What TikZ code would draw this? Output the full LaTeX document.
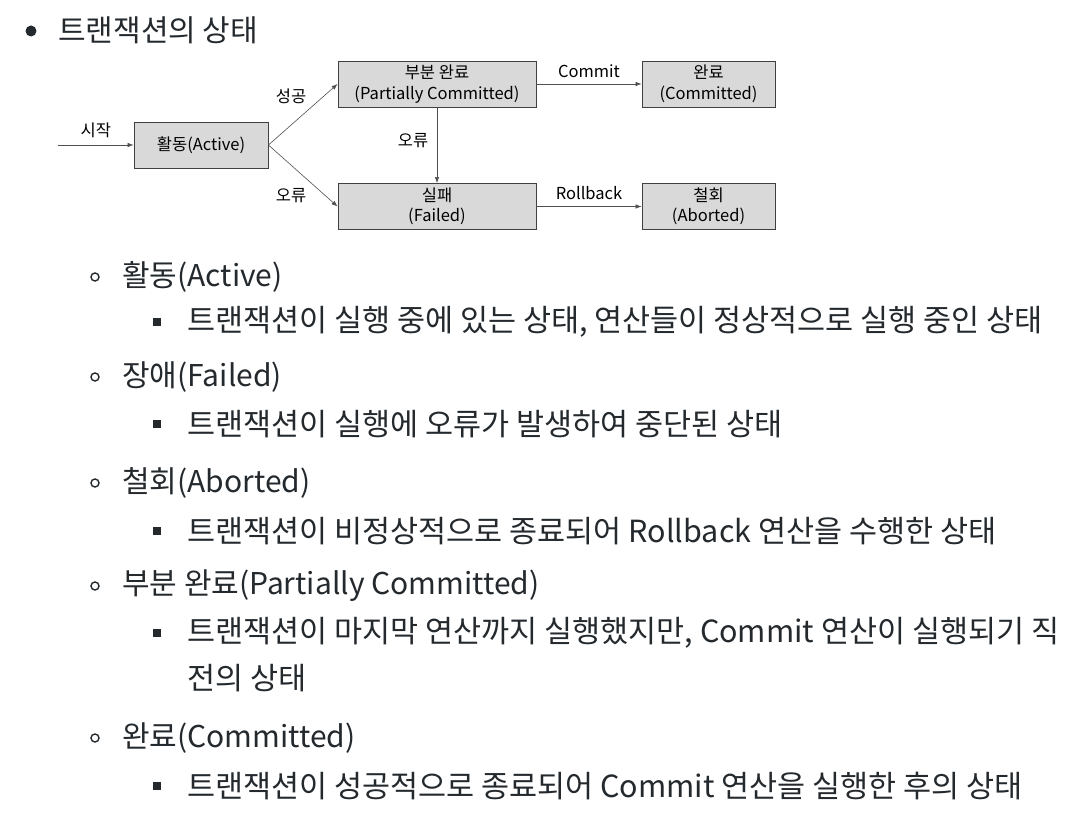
\documentclass[tikz,border=0pt]{standalone}
\usepackage{fontspec}
\setmainfont{Noto Sans CJK KR}
\usepackage{xcolor}
\usetikzlibrary{shapes,arrows,arrows.meta,positioning,calc}

\definecolor{inkgray}{HTML}{24292E}
\definecolor{boxfill}{HTML}{D9D9D9}
\definecolor{boxline}{HTML}{404040}
\definecolor{edgegray}{HTML}{505050}

\begin{document}
\begin{tikzpicture}[x=1pt, y=-1pt,
    state/.style={draw=boxline, fill=boxfill, line width=0.9pt, minimum height=46pt,
        align=center, inner sep=2pt, font=\fontsize{16.5}{20.5}\selectfont},
    edge/.style={-{Latex[length=6pt,width=4.5pt]}, draw=edgegray, line width=0.6pt},
    lbl/.style={font=\fontsize{16.5}{19}\selectfont, text=black},
    item/.style={anchor=west, inner sep=0pt, text=inkgray, font=\fontsize{30}{34}\selectfont},
    desc/.style={item, font=\fontsize{30.5}{34}\selectfont},
    hollow/.style={circle, draw=inkgray, line width=1.4pt, minimum size=8pt, inner sep=0pt},
    sqbullet/.style={fill=inkgray, minimum size=8.5pt, inner sep=0pt}]
\useasboundingbox (0,0) rectangle (1086,824);

% heading
\node[circle, fill=inkgray, minimum size=11pt, inner sep=0pt] (dot) at (31,31) {};
\node[item] (head) at (58,30) {트랜잭션의 상태};

% state diagram
\coordinate (start) at (58,145);
\node[state, minimum width=134pt] (active) at (201,145) {활동(Active)};
\node[state, minimum width=198pt] (partial) at (437,84) {부분 완료\\(Partially Committed)};
\node[state, minimum width=133pt] (committed) at (708.5,84) {완료\\(Committed)};
\node[state, minimum width=198pt] (failed) at (437,206.5) {실패\\(Failed)};
\node[state, minimum width=133pt] (aborted) at (708.5,206.5) {철회\\(Aborted)};

\draw[edge] (start) -- (active) node[lbl, midway, above=4pt] (lstart) {시작};
\draw[edge] (active.east) -- (partial.west);
\draw[edge] (active.east) -- (failed.west);
\draw[edge] (partial) -- (failed);
\draw[edge] (partial) -- (committed) node[lbl, midway, above=3pt] (lcommit) {Commit};
\draw[edge] (failed) -- (aborted) node[lbl, midway, above=3pt] (lrollback) {Rollback};

\node[lbl] (lsuccess) at (291,96) {성공};
\node[lbl] (lerror) at (291,196) {오류};
\node[lbl] (lerror2) at (413,141) {오류};

% list of states
\node[hollow] (b1) at (95,277) {};
\node[item] (t1) at (122,277) {활동(Active)};
\node[sqbullet] (s1) at (157,322) {};
\node[desc] (d1) at (187,322) {트랜잭션이 실행 중에 있는 상태, 연산들이 정상적으로 실행 중인 상태};

\node[hollow] (b2) at (95,377) {};
\node[item] (t2) at (122,377) {장애(Failed)};
\node[sqbullet] (s2) at (157,424) {};
\node[desc] (d2) at (187,424) {트랜잭션이 실행에 오류가 발생하여 중단된 상태};

\node[hollow] (b3) at (95,483) {};
\node[item] (t3) at (122,483) {철회(Aborted)};
\node[sqbullet] (s3) at (157,531) {};
\node[desc] (d3) at (187,531) {트랜잭션이 비정상적으로 종료되어 Rollback 연산을 수행한 상태};

\node[hollow] (b4) at (95,586) {};
\node[item] (t4) at (122,586) {부분 완료(Partially Committed)};
\node[sqbullet] (s4) at (157,633) {};
\node[desc] (d4) at (187,633) {트랜잭션이 마지막 연산까지 실행했지만, Commit 연산이 실행되기 직};
\node[desc] (d4b) at (187,678) {전의 상태};

\node[hollow] (b5) at (95,738) {};
\node[item] (t5) at (122,738) {완료(Committed)};
\node[sqbullet] (s5) at (157,786) {};
\node[desc] (d5) at (187,786) {트랜잭션이 성공적으로 종료되어 Commit 연산을 실행한 후의 상태};
\end{tikzpicture}
\end{document}
